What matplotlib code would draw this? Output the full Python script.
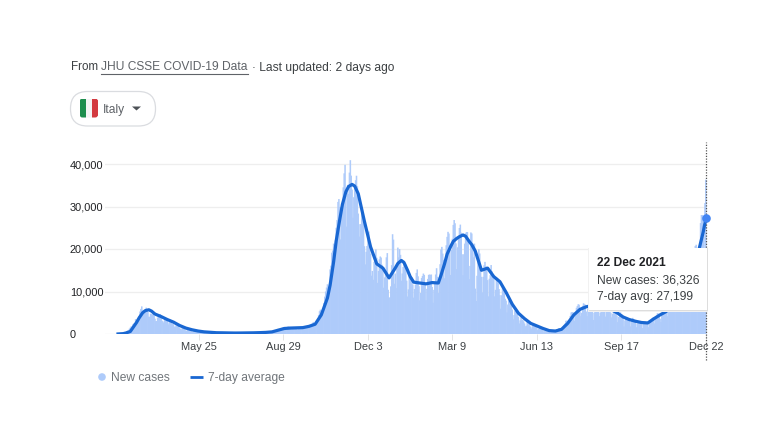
import matplotlib
matplotlib.use("Agg")
import matplotlib.pyplot as plt
import pandas as pd
from matplotlib.patches import FancyBboxPatch, Rectangle, Circle

W, H = 782, 442

# Daily new cases, one row per week (Sunday to Saturday), from 23 Feb 2020
new_cases = [
    0, 20, 50, 60, 90, 150, 240,
    570, 350, 470, 590, 780, 780, 1250,
    1490, 1800, 980, 2300, 2500, 2550, 3500,
    3200, 2800, 3500, 4200, 5300, 5900, 6500,
    5500, 4800, 5200, 5200, 6200, 5900, 5200,
    4050, 4050, 4780, 4670, 4580, 4800, 4300,
    3600, 3040, 3040, 3840, 4200, 3950, 4700,
    4100, 3150, 2970, 2670, 3780, 3500, 3490,
    3050, 2250, 2730, 3370, 2650, 3020, 2360,
    2320, 1730, 1740, 2090, 1870, 1960, 1900,
    1390, 1220, 1080, 1440, 1400, 1330, 1080,
    800, 740, 1400, 890, 990, 880, 790,
    670, 450, 810, 660, 640, 650, 530,
    530, 300, 400, 580, 590, 520, 420,
    350, 180, 320, 320, 180, 520, 270,
    200, 280, 280, 200, 380, 160, 340,
    340, 300, 210, 330, 250, 260, 260,
    220, 220, 120, 190, 290, 260, 170,
    170, 130, 140, 190, 200, 230, 210,
    210, 140, 190, 190, 160, 280, 190,
    180, 170, 130, 160, 230, 230, 230,
    220, 130, 130, 280, 300, 250, 270,
    250, 170, 210, 290, 380, 290, 300,
    240, 160, 190, 380, 400, 550, 350,
    460, 260, 410, 480, 570, 630, 620,
    480, 320, 400, 640, 840, 950, 1070,
    1210, 950, 880, 1370, 1410, 1460, 1440,
    1370, 990, 980, 1330, 1730, 1730, 1650,
    1300, 1100, 1370, 1430, 1600, 1620, 1500,
    1460, 1000, 1230, 1450, 1460, 1590, 1640,
    1590, 1350, 1390, 1640, 1790, 1780, 1900,
    1770, 1490, 1650, 1850, 2500, 2840, 2580,
    2580, 2260, 2680, 3680, 4460, 5370, 5720,
    5450, 4620, 5900, 7330, 8800, 10000, 10930,
    11700, 9340, 10870, 15200, 16080, 19140, 19640,
    21270, 17010, 21990, 24990, 26830, 31080, 31760,
    29900, 22250, 28240, 30550, 34500, 37800, 39810,
    32620, 25270, 35100, 32960, 37980, 40900, 37260,
    33980, 27350, 32190, 34280, 36180, 37240, 34770,
    28340, 22930, 25850, 25850, 29000, 28350, 26320,
    20650, 16380, 19350, 20710, 23220, 24100, 21050,
    18890, 13720, 14840, 12760, 16990, 18730, 19900,
    17940, 12030, 14840, 17570, 18240, 17990, 16310,
    15100, 10870, 13320, 14520, 18040, 19040, 10410,
    8580, 8590, 11210, 16200, 23480, 22210, 11830,
    14240, 10800, 15380, 20330, 18020, 19980, 18630,
    12530, 14240, 15770, 17250, 16150, 16310, 12550,
    8820, 10500, 13570, 14080, 13630, 13330, 11630,
    8560, 10590, 11630, 14370, 15200, 13570, 11250,
    7920, 9660, 13190, 13660, 14220, 13910, 11640,
    7970, 10630, 12960, 13910, 14000, 13900, 14000,
    11070, 7350, 10390, 12070, 14000, 15480, 13450,
    9630, 13310, 16420, 19890, 20500, 18920, 17450,
    13110, 17080, 20880, 22860, 24040, 23640, 20760,
    13900, 19750, 22410, 25670, 26820, 26060, 21320,
    15270, 20400, 23060, 24940, 25740, 23830, 18770,
    13850, 18770, 21260, 23700, 23990, 23990, 21930,
    12920, 16020, 23900, 23650, 21260, 18040, 21260,
    10680, 7770, 13700, 17220, 19940, 18940, 15750,
    13450, 9790, 13450, 16170, 16970, 15940, 15370,
    12680, 8860, 13000, 13840, 16230, 14760, 13820,
    13160, 8860, 10400, 13380, 13000, 12970, 10580,
    9140, 5950, 9120, 11070, 10550, 10180, 8290,
    7850, 5080, 6940, 7850, 8080, 7570, 6660,
    5750, 3450, 4450, 5500, 5220, 5250, 4720,
    3990, 2480, 3220, 3940, 3220, 3350, 2960,
    2480, 1820, 1970, 2900, 2280, 2440, 2020,
    1670, 1270, 1900, 2200, 1770, 1900, 1720,
    1390, 910, 1260, 1390, 1200, 1200, 980,
    880, 500, 840, 950, 930, 830, 790,
    720, 390, 680, 780, 800, 790, 800,
    810, 480, 910, 1010, 1390, 1390, 1400,
    1400, 1000, 1550, 2150, 2460, 3120, 3120,
    3120, 2240, 3550, 4250, 5060, 5140, 5140,
    4740, 3120, 4520, 6170, 6600, 7000, 6900,
    5320, 4200, 5000, 6600, 7230, 7000, 6900,
    5300, 4200, 6000, 7400, 7500, 7300, 6900,
    5700, 3300, 5000, 7200, 7260, 7500, 7000,
    5500, 4200, 5000, 7500, 7800, 6800, 6500,
    5300, 4100, 5500, 6500, 7000, 6800, 5800,
    5000, 3900, 4700, 5900, 5500, 5500, 5000,
    4300, 2800, 4000, 4800, 5100, 4700, 4500,
    3500, 1800, 3200, 3900, 3800, 3700, 3400,
    3200, 1800, 2900, 3200, 3800, 3400, 3300,
    2800, 1600, 2400, 3000, 3000, 2800, 2700,
    2300, 1400, 2400, 2700, 2900, 2700, 2700,
    2400, 1600, 2500, 3000, 3300, 3700, 3900,
    3700, 2500, 3700, 4300, 4900, 4800, 4500,
    3600, 2800, 4400, 5000, 5800, 6000, 6000,
    5800, 4200, 6500, 7800, 8500, 8600, 8500,
    7600, 5500, 8700, 10600, 10600, 11500, 11600,
    10000, 7000, 11500, 13700, 13800, 14000, 13700,
    12800, 9500, 13000, 15000, 16800, 17900, 17000,
    15000, 9500, 13000, 20000, 19000, 20700, 21000,
    17900, 12700, 20600, 20700, 26100, 28000, 28000,
    24000, 16000, 30800, 36326,
]

# 7-day average, from 23 Feb 2020 to 22 Dec 2021
avg_dates = ["2020-02-23", "2020-03-01", "2020-03-08", "2020-03-15", "2020-03-18", "2020-03-22",
             "2020-03-25", "2020-03-29", "2020-04-01", "2020-04-05", "2020-04-12", "2020-04-19",
             "2020-04-26", "2020-05-03", "2020-05-10", "2020-05-17", "2020-05-24", "2020-05-31",
             "2020-06-07", "2020-06-14", "2020-06-21", "2020-06-28", "2020-07-05", "2020-07-12",
             "2020-07-19", "2020-07-26", "2020-08-02", "2020-08-09", "2020-08-16", "2020-08-23",
             "2020-08-30", "2020-09-06", "2020-09-13", "2020-09-20", "2020-09-27", "2020-10-04",
             "2020-10-11", "2020-10-18", "2020-10-21", "2020-10-25", "2020-10-28", "2020-11-01",
             "2020-11-04", "2020-11-08", "2020-11-11", "2020-11-15", "2020-11-18", "2020-11-22",
             "2020-11-29", "2020-12-06", "2020-12-13", "2020-12-20", "2020-12-27", "2021-01-03",
             "2021-01-06", "2021-01-10", "2021-01-13", "2021-01-17", "2021-01-20", "2021-01-24",
             "2021-01-31", "2021-02-07", "2021-02-14", "2021-02-21", "2021-02-24", "2021-02-28",
             "2021-03-03", "2021-03-07", "2021-03-10", "2021-03-14", "2021-03-17", "2021-03-21",
             "2021-03-24", "2021-03-28", "2021-03-31", "2021-04-04", "2021-04-11", "2021-04-18",
             "2021-04-25", "2021-05-02", "2021-05-09", "2021-05-16", "2021-05-23", "2021-05-30",
             "2021-06-06", "2021-06-13", "2021-06-20", "2021-06-27", "2021-07-04", "2021-07-11",
             "2021-07-18", "2021-07-25", "2021-08-01", "2021-08-08", "2021-08-15", "2021-08-22",
             "2021-08-29", "2021-09-05", "2021-09-12", "2021-09-19", "2021-09-26", "2021-10-03",
             "2021-10-10", "2021-10-17", "2021-10-24", "2021-10-31", "2021-11-07", "2021-11-14",
             "2021-11-21", "2021-11-28", "2021-12-05", "2021-12-12", "2021-12-19", "2021-12-22"]
avg_values = [10, 100, 600, 2700, 3800, 5000,
              5500, 5700, 5400, 4700, 4100, 3400,
              2800, 2000, 1400, 1000, 700, 500,
              400, 300, 280, 250, 230, 240,
              260, 280, 320, 380, 500, 900,
              1300, 1400, 1450, 1500, 1800, 2300,
              4500, 8500, 11500, 17000, 22000, 27000,
              30500, 33500, 34700, 35200, 34800, 33000,
              26500, 20500, 16500, 15500, 13200, 15500,
              16600, 17300, 16800, 15000, 13500, 12200,
              12000, 11800, 12100, 12000, 13800, 16500,
              18800, 20600, 21800, 22500, 22900, 23300,
              23000, 21800, 21000, 19500, 15000, 15500,
              13500, 12300, 9800, 7000, 4900, 3600,
              2500, 1900, 1300, 800, 700, 1100,
              2500, 4500, 5800, 6400, 6700, 6800,
              6300, 5800, 5000, 4000, 3400, 3000,
              2700, 2600, 3600, 4500, 5300, 7500,
              10000, 12500, 15000, 18000, 24000, 27199]

y_ticks = [0, 10000, 20000, 30000, 40000]
y_labels = ["0", "10,000", "20,000", "30,000", "40,000"]
x_ticks = ["2020-05-25", "2020-08-29", "2020-12-03", "2021-03-09", "2021-06-13", "2021-09-17", "2021-12-22"]
x_labels = ["May 25", "Aug 29", "Dec 3", "Mar 9", "Jun 13", "Sep 17", "Dec 22"]
series_names = ["New cases", "7-day average"]
tooltip_lines = ["22 Dec 2021", "New cases: 36,326", "7-day avg: 27,199"]

plt.rcParams["font.family"] = ["Liberation Sans", "DejaVu Sans"]
GREY = "#70757a"
DARK = "#3c4043"
FS = 8.64
AXFS = 7.95

fig = plt.figure(figsize=(W / 100, H / 100), dpi=100, facecolor="white")

# plot area: pixels x 105..707, y 142..334
ax = fig.add_axes([105 / W, 1 - 334 / H, 602 / W, 192 / H])
dates = pd.date_range("2020-02-23", periods=len(new_cases), freq="D")
bars = ax.bar(dates, new_cases, width=1.75, color="#aecbfa", linewidth=0, zorder=2)
for b in bars:
    b.set_snap(False)
ax.plot(pd.to_datetime(avg_dates), avg_values, color="#1967d2", lw=2.3,
        solid_joinstyle="round", zorder=3)
ax.plot(pd.to_datetime(avg_dates[-1:]), avg_values[-1:], "o", color="#4285f4", ms=6.2,
        mec="none", zorder=5, clip_on=False)
ax.axvline(pd.Timestamp(x_ticks[-1]), ymin=-26 / 192, ymax=1, color="#555555", lw=0.9,
           ls=(0, (1, 1.2)), zorder=4, clip_on=False)

ax.set_xlim(pd.Timestamp("2020-02-23") - pd.Timedelta(days=14.8),
            pd.Timestamp("2020-02-23") + pd.Timedelta(days=669.3))
ax.set_ylim(0, 192 * 40000 / 170)
ax.set_yticks(y_ticks, y_labels)
ax.set_xticks(pd.to_datetime(x_ticks), x_labels)
ax.grid(axis="y", color="#eeeeee", lw=0.9, zorder=0)
ax.set_axisbelow(True)
for s in ax.spines.values():
    s.set_visible(False)
ax.tick_params(axis="y", length=0, pad=25.2, labelsize=AXFS, labelcolor="#202124")
for lab in ax.get_yticklabels():
    lab.set_ha("left")
ax.tick_params(axis="x", length=4, width=0.7, color="#e4e4e4", pad=2, labelsize=AXFS, labelcolor="#3c4043")
ax.patch.set_alpha(0)

# overlay in pixel coordinates for page furniture
ov = fig.add_axes([0, 0, 1, 1], zorder=10)
ov.set_xlim(0, W)
ov.set_ylim(H, 0)
ov.axis("off")
ov.patch.set_alpha(0)

ov.text(70.5, 67.5, "From", fontsize=8.4, color=DARK, va="center")
ov.text(101, 67.5, "JHU CSSE COVID-19 Data", fontsize=FS, color="#5f6368", va="center")
ov.plot([101, 248], [73.5, 73.5], color="#5f6368", lw=0.8)
ov.text(252, 67.5, "· Last updated: 2 days ago", fontsize=FS, color=DARK, va="center")

# country chip
ov.add_patch(FancyBboxPatch((70.5, 91.5), 85, 34.5, boxstyle="round,pad=0,rounding_size=17",
                            fc="white", ec="#dadce0", lw=0.9))
flag = FancyBboxPatch((79.5, 98.5), 18.6, 19, boxstyle="round,pad=0,rounding_size=3", fc="none", ec="none")
ov.add_patch(flag)
for fx, fc in ((79.5, "#1e8e4e"), (85.7, "#f4f4f4"), (91.9, "#d33a40")):
    r = Rectangle((fx, 98.5), 6.2, 19, fc=fc, ec="none")
    ov.add_patch(r)
    r.set_clip_path(flag)
ov.text(103, 109.5, "Italy", fontsize=FS, color="#5f6368", va="center")
ov.fill([132, 141, 136.5], [106.5, 106.5, 110.5], color="#4d5156", lw=0)

# tooltip
for off, c in ((2.0, "#f1f1f1"), (1.0, "#dddddd")):
    ov.add_patch(Rectangle((589 - off / 2, 247.5), 118 + off, 62.5 + off, fc=c, ec="none", zorder=6))
ov.add_patch(Rectangle((589, 247.5), 118, 62.5, fc="white", ec="none", zorder=7))
ov.text(597, 263, tooltip_lines[0], fontsize=FS, fontweight="bold", color="#202124", va="center", zorder=8)
ov.text(597, 280.5, tooltip_lines[1], fontsize=FS, color=DARK, va="center", zorder=8)
ov.text(597, 297, tooltip_lines[2], fontsize=FS, color=DARK, va="center", zorder=8)

# legend
ov.add_patch(Circle((102, 377), 3.8, fc="#aecbfa", ec="none"))
ov.text(111, 378, series_names[0], fontsize=FS, color=GREY, va="center")
ov.plot([190, 203], [377, 377], color="#1967d2", lw=2.0, solid_capstyle="butt")
ov.text(208, 378, series_names[1], fontsize=FS, color=GREY, va="center")

fig.savefig("out.png", dpi=100, facecolor="white")
